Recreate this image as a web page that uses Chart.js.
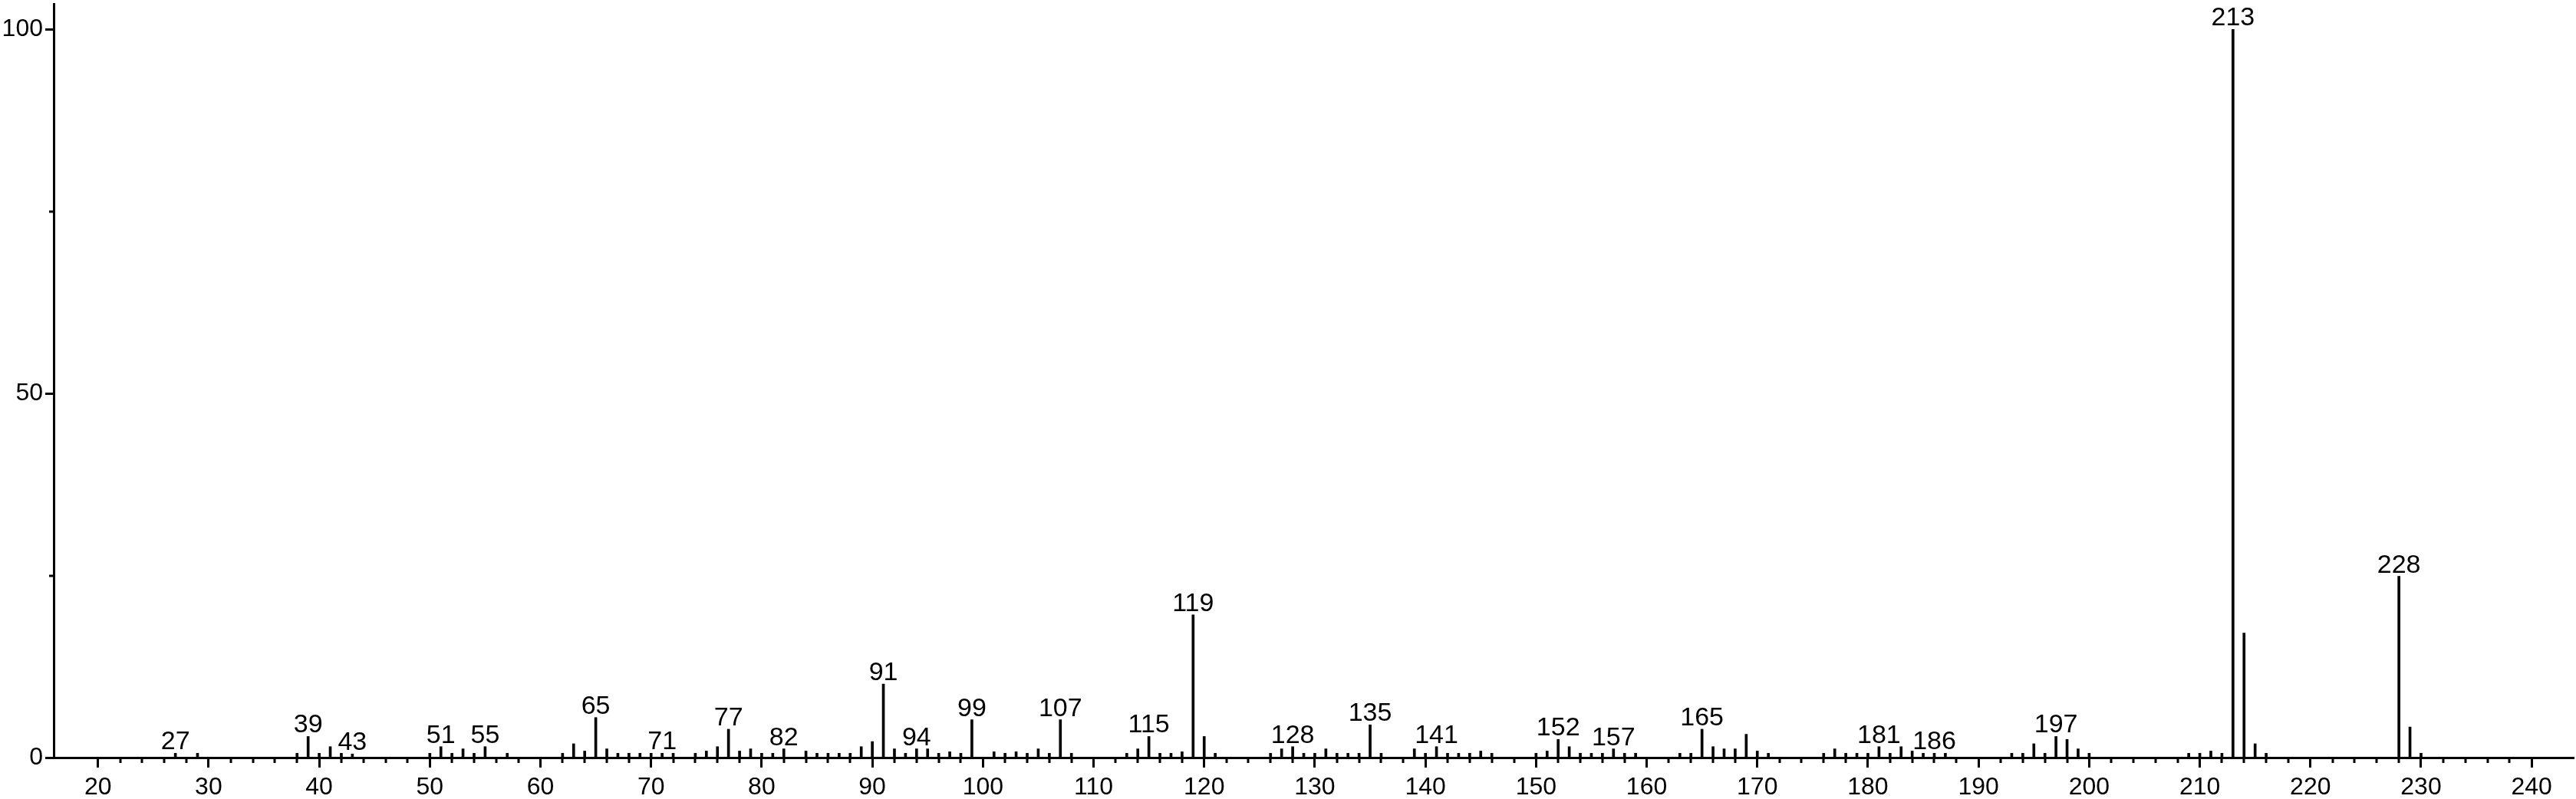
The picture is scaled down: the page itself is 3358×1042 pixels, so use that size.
<!DOCTYPE html>
<html lang="en">
<head>
<meta charset="UTF-8">
<title>Mass spectrum</title>
<script src="https://cdn.jsdelivr.net/npm/chart.js"></script>
<style>
    body { margin: 0; background: #fff; }
    #wrap { width: 3358px; height: 1042px; position: relative; }
</style>
</head>
<body>
<div id="wrap"><canvas id="spec"></canvas></div>
<script>
// m/z values and relative intensities
const mz = [
    27, 29, 38, 39, 40, 41, 42, 43, 50, 51, 52, 53, 54, 55, 57,
    62, 63, 64, 65, 66, 67, 68, 69, 70, 71, 72, 74, 75, 76, 77, 78, 79,
    80, 81, 82, 84, 85, 86, 87, 88, 89, 90, 91, 92, 93, 94, 95, 96, 97, 98, 99,
    101, 102, 103, 104, 105, 106, 107, 108, 113, 114, 115, 116, 117, 118, 119,
    120, 121, 126, 127, 128, 129, 130, 131, 132, 133, 134, 135, 136, 139,
    140, 141, 142, 143, 144, 145, 146, 150, 151, 152, 153, 154, 155, 156, 157, 158, 159,
    163, 164, 165, 166, 167, 168, 169, 170, 171, 176, 177, 178, 179,
    180, 181, 182, 183, 184, 185, 186, 187, 193, 194, 195, 196, 197, 198, 199,
    200, 209, 210, 211, 212, 213, 214, 215, 216, 228, 229, 230
];
const intensity = [
    0.6, 0.6, 0.6, 2.9, 0.6, 1.5, 0.6, 0.5, 0.6, 1.5, 0.6, 1.2, 0.6, 1.5, 0.6,
    0.6, 1.9, 0.9, 5.5, 1.2, 0.6, 0.6, 0.6, 0.6, 0.6, 0.6, 0.6, 0.9, 1.5, 3.9, 0.9, 1.2,
    0.6, 0.6, 1.2, 0.9, 0.6, 0.6, 0.6, 0.6, 1.5, 2.2, 10.1, 1.2, 0.6, 1.2, 1.2, 0.6, 0.8, 0.6, 5.2,
    0.8, 0.6, 0.8, 0.6, 1.2, 0.6, 5.2, 0.6, 0.6, 1.2, 2.9, 0.6, 0.6, 0.8, 19.6,
    2.9, 0.6, 0.6, 1.2, 1.5, 0.6, 0.6, 1.2, 0.6, 0.6, 0.6, 4.5, 0.6, 1.2,
    0.6, 1.5, 0.6, 0.6, 0.6, 0.9, 0.6, 0.6, 0.9, 2.5, 1.5, 0.6, 0.6, 0.6, 1.2, 0.6, 0.6,
    0.6, 0.6, 3.9, 1.5, 1.2, 1.2, 3.2, 0.9, 0.6, 0.6, 1.2, 0.6, 0.6,
    0.6, 1.5, 0.6, 1.5, 0.9, 0.6, 0.6, 0.6, 0.6, 0.6, 1.9, 0.6, 2.9, 2.5, 1.2,
    0.6, 0.6, 0.6, 0.9, 0.6, 100, 17.1, 1.9, 0.6, 24.9, 4.2, 0.6
];
const labeledPeaks = [27, 39, 43, 51, 55, 65, 71, 77, 82, 91, 94, 99, 107, 115, 119,
    128, 135, 141, 152, 157, 165, 181, 186, 197, 213, 228];
const xTickLabels = [20, 30, 40, 50, 60, 70, 80, 90, 100, 110, 120, 130, 140, 150,
    160, 170, 180, 190, 200, 210, 220, 230, 240];
const yTickLabels = [0, 50, 100];
const yMinorTicks = [25, 75];

const FONT = '"Liberation Sans", Arial, sans-serif';

// small ticks every 2 units on x, and at 25/75 on y
const minorTicks = {
    id: 'minorTicks',
    afterDraw(chart) {
        const { ctx, scales: { x, y } } = chart;
        ctx.save();
        ctx.strokeStyle = '#000';
        ctx.lineWidth = 3;
        ctx.beginPath();
        for (let v = 22; v <= 238; v += 2) {
            if (v % 10 === 0) continue;
            const px = Math.round(x.getPixelForValue(v));
            ctx.moveTo(px, y.bottom);
            ctx.lineTo(px, y.bottom + 7);
        }
        yMinorTicks.forEach(v => {
            const py = Math.round(y.getPixelForValue(v));
            ctx.moveTo(x.left, py);
            ctx.lineTo(x.left - 6, py);
        });
        ctx.stroke();
        ctx.restore();
    }
};

// m/z numbers above the labelled peaks
const peakLabels = {
    id: 'peakLabels',
    afterDatasetsDraw(chart) {
        const ctx = chart.ctx;
        const meta = chart.getDatasetMeta(0);
        ctx.save();
        ctx.font = '34px ' + FONT;
        ctx.fillStyle = '#000';
        ctx.textAlign = 'center';
        ctx.textBaseline = 'alphabetic';
        meta.data.forEach((bar, i) => {
            if (!labeledPeaks.includes(mz[i])) return;
            ctx.fillText(String(mz[i]), bar.x, bar.y - 5);
        });
        ctx.restore();
    }
};

new Chart(document.getElementById('spec'), {
    type: 'bar',
    data: {
        datasets: [{
            data: mz.map((m, i) => ({ x: m, y: intensity[i] })),
            backgroundColor: '#000',
            borderWidth: 0,
            barThickness: 3,
            grouped: false
        }]
    },
    options: {
        responsive: true,
        maintainAspectRatio: false,
        animation: false,
        layout: { padding: { top: 5, right: 3, left: 0, bottom: 0 } },
        plugins: {
            legend: { display: false },
            tooltip: { enabled: false }
        },
        scales: {
            x: {
                type: 'linear',
                min: 16,
                max: 243.8,
                offset: false,
                grid: {
                    display: true,
                    offset: false,
                    drawOnChartArea: false,
                    tickLength: 13,
                    tickWidth: 3,
                    tickColor: '#000'
                },
                border: { display: true, color: '#000', width: 3 },
                ticks: {
                    color: '#000',
                    font: { family: FONT, size: 32 },
                    padding: 7,
                    maxRotation: 0,
                    autoSkip: false
                },
                afterBuildTicks: s => { s.ticks = xTickLabels.map(v => ({ value: v })); },
                afterFit: s => {
                    s.height = 54;
                    s.paddingLeft = 0;
                    s.paddingRight = 0;
                }
            },
            y: {
                type: 'linear',
                min: 0,
                max: 103.5,
                grid: {
                    display: true,
                    drawOnChartArea: false,
                    tickLength: 11,
                    tickWidth: 3,
                    tickColor: '#000'
                },
                border: { display: true, color: '#000', width: 3 },
                ticks: {
                    color: '#000',
                    font: { family: FONT, size: 32 },
                    padding: 3
                },
                afterBuildTicks: s => { s.ticks = yTickLabels.map(v => ({ value: v })); },
                afterFit: s => {
                    s.width = 70;
                    s.paddingTop = 0;
                    s.paddingBottom = 0;
                }
            }
        }
    },
    plugins: [minorTicks, peakLabels]
});
</script>
</body>
</html>
